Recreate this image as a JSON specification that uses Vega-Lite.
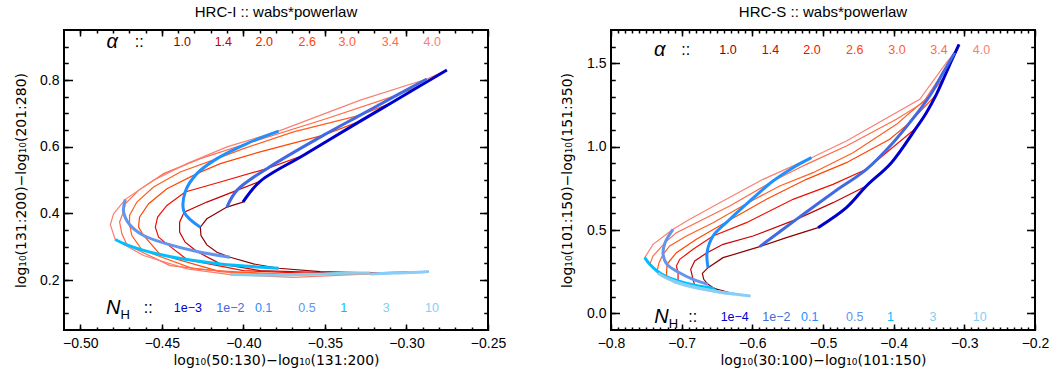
{
"$schema":"https://vega.github.io/schema/vega-lite/v6.json",
"autosize":{"type":"pad"},
"padding":{"left":13,"top":4,"right":5,"bottom":5},
"spacing":123,
"bounds":"flush",
"config":{"font":"Liberation Sans","view":{"stroke":"black","strokeWidth":2},
"axis":{"grid":false,"domain":false,"tickColor":"black","tickWidth":1.5,"labelColor":"black","labelFontSize":14,"labelFont":"Liberation Sans","titleFont":"DejaVu Sans","titleFontSize":14,"titleFontWeight":"normal","titleColor":"black","labelFlush":false,"labelOverlap":false,"minExtent":0},
"title":{"fontSize":15,"fontWeight":"normal","color":"black","offset":9}},
"datasets":{
"L":[
{"s":"α1.0","k":"r","o":[0,1,2,3,4,5,6,7,8,9,10,11,12],"x":[-0.4003,-0.4101,-0.4224,-0.4264,-0.4260,-0.4224,-0.4162,-0.4081,-0.3938,-0.3784,-0.3529,-0.3222,-0.2864],"y":[0.4338,0.4188,0.3837,0.3586,0.3335,0.3054,0.2834,0.2683,0.2483,0.2352,0.2252,0.2212,0.2252]},
{"s":"α1.4","k":"r","o":[0,1,2,3,4,5,6,7,8,9,10,11],"x":[-0.3897,-0.4040,-0.4224,-0.4363,-0.4391,-0.4391,-0.4357,-0.4285,-0.4142,-0.3897,-0.3365,-0.2926],"y":[0.4960,0.4689,0.4338,0.4037,0.3736,0.3436,0.3135,0.2854,0.2483,0.2282,0.2202,0.2232]},
{"s":"α2.0","k":"r","o":[0,1,2,3,4,5,6,7,8,9,10,11,12],"x":[-0.3631,-0.3856,-0.4142,-0.4357,-0.4469,-0.4526,-0.4540,-0.4520,-0.4469,-0.4346,-0.3999,-0.3508,-0.2987],"y":[0.5743,0.5341,0.4940,0.4639,0.4238,0.3887,0.3586,0.3285,0.3084,0.2613,0.2282,0.2182,0.2222]},
{"s":"α2.6","k":"r","o":[0,1,2,3,4,5,6,7,8,9,10,11,12,13],"x":[-0.3283,-0.3508,-0.3897,-0.4142,-0.4285,-0.4469,-0.4581,-0.4637,-0.4643,-0.4612,-0.4510,-0.4142,-0.3651,-0.3048],"y":[0.6766,0.6345,0.5843,0.5492,0.5191,0.4740,0.4288,0.3887,0.3586,0.3335,0.2763,0.2252,0.2162,0.2212]},
{"s":"α3.0","k":"r","o":[0,1,2,3,4,5,6,7,8,9,10,11,12,13,14],"x":[-0.3099,-0.3283,-0.3692,-0.3999,-0.4162,-0.4387,-0.4551,-0.4653,-0.4698,-0.4698,-0.4684,-0.4622,-0.4305,-0.3794,-0.3099],"y":[0.7297,0.6946,0.6445,0.5943,0.5642,0.5241,0.4790,0.4338,0.3937,0.3666,0.3335,0.2904,0.2332,0.2152,0.2202]},
{"s":"α3.4","k":"r","o":[0,1,2,3,4,5,6,7,8,9,10,11,12,13,14],"x":[-0.2916,-0.3059,-0.3488,-0.3978,-0.4264,-0.4489,-0.4643,-0.4724,-0.4735,-0.4759,-0.4745,-0.4714,-0.4449,-0.3938,-0.3161],"y":[0.7829,0.7548,0.6846,0.6094,0.5642,0.5191,0.4689,0.4288,0.4057,0.3736,0.3385,0.3054,0.2432,0.2152,0.2192]},
{"s":"α4.0","k":"r","o":[0,1,2,3,4,5,6,7,8,9,10,11,12,13,14,15],"x":[-0.2752,-0.2875,-0.3283,-0.3784,-0.4101,-0.4346,-0.4551,-0.4724,-0.4796,-0.4816,-0.4786,-0.4612,-0.4346,-0.4081,-0.3692,-0.3222],"y":[0.8300,0.8030,0.7398,0.6465,0.5993,0.5492,0.4990,0.4419,0.3987,0.3656,0.3215,0.2733,0.2332,0.2162,0.2081,0.2182]},
{"s":"NH1e-3","k":"b","o":[0,1,2,3,4,5,6],"x":[-0.4003,-0.3897,-0.3631,-0.3283,-0.3099,-0.2916,-0.2752],"y":[0.4338,0.4960,0.5743,0.6766,0.7297,0.7829,0.8300]},
{"s":"NH1e-2","k":"b","o":[0,1,2,3,4,5,6],"x":[-0.4101,-0.4040,-0.3856,-0.3508,-0.3283,-0.3059,-0.2875],"y":[0.4188,0.4689,0.5341,0.6345,0.6946,0.7548,0.8030]},
{"s":"NH0.1","k":"b","o":[0,1,2,3,4,5,6],"x":[-0.4264,-0.4363,-0.4357,-0.4285,-0.4162,-0.3978,-0.3784],"y":[0.3586,0.4037,0.4639,0.5191,0.5642,0.6094,0.6465]},
{"s":"NH0.5","k":"b","o":[0,1,2,3,4,5,6],"x":[-0.4081,-0.4285,-0.4469,-0.4612,-0.4698,-0.4735,-0.4724],"y":[0.2683,0.2854,0.3084,0.3335,0.3666,0.4057,0.4419]},
{"s":"NH1","k":"b","o":[0,1,2,3,4,5,6],"x":[-0.3784,-0.4142,-0.4346,-0.4510,-0.4622,-0.4714,-0.4786],"y":[0.2352,0.2483,0.2613,0.2763,0.2904,0.3054,0.3215]},
{"s":"NH3","k":"b","o":[0,1,2,3,4,5,6],"x":[-0.3222,-0.3365,-0.3508,-0.3651,-0.3794,-0.3938,-0.4081],"y":[0.2212,0.2202,0.2182,0.2162,0.2152,0.2152,0.2162]},
{"s":"NH10","k":"b","o":[0,1,2,3,4,5,6],"x":[-0.2864,-0.2926,-0.2987,-0.3048,-0.3099,-0.3161,-0.3222],"y":[0.2252,0.2232,0.2222,0.2212,0.2202,0.2192,0.2182]}
],
"R":[
{"s":"α1.0","k":"r","o":[0,1,2,3,4,5,6,7,8,9,10],"x":[-0.5070,-0.5518,-0.5895,-0.6414,-0.6627,-0.6707,-0.6688,-0.6627,-0.6532,-0.6249,-0.6028],"y":[0.514,0.454,0.400,0.334,0.274,0.240,0.204,0.174,0.148,0.116,0.104]},
{"s":"α1.4","k":"r","o":[0,1,2,3,4,5,6,7,8,9,10,11],"x":[-0.4386,-0.4858,-0.5377,-0.5990,-0.6414,-0.6641,-0.6815,-0.6872,-0.6839,-0.6815,-0.6461,-0.6226],"y":[0.764,0.664,0.564,0.464,0.414,0.364,0.314,0.264,0.204,0.168,0.128,0.114]},
{"s":"α2.0","k":"r","o":[0,1,2,3,4,5,6,7,8,9,10,11,12],"x":[-0.3678,-0.4386,-0.4858,-0.5424,-0.6084,-0.6556,-0.6839,-0.7027,-0.7075,-0.7051,-0.7051,-0.6674,-0.6414],"y":[1.114,0.864,0.774,0.684,0.544,0.464,0.384,0.324,0.284,0.248,0.194,0.144,0.124]},
{"s":"α2.6","k":"r","o":[0,1,2,3,4,5,6,7,8,9,10,11,12],"x":[-0.3395,-0.3773,-0.4056,-0.4669,-0.5235,-0.5801,-0.6344,-0.6792,-0.7075,-0.7207,-0.7216,-0.6886,-0.6603],"y":[1.314,1.144,1.044,0.904,0.804,0.684,0.554,0.444,0.364,0.294,0.220,0.164,0.138]},
{"s":"α3.0","k":"r","o":[0,1,2,3,4,5,6,7,8,9,10,11,12,13,14,15],"x":[-0.3277,-0.3490,-0.3726,-0.3961,-0.4575,-0.5141,-0.5612,-0.6061,-0.6556,-0.6933,-0.7169,-0.7263,-0.7320,-0.7348,-0.7075,-0.6792],"y":[1.424,1.304,1.220,1.134,0.964,0.844,0.764,0.664,0.544,0.464,0.404,0.354,0.304,0.254,0.188,0.154]},
{"s":"α3.4","k":"r","o":[0,1,2,3,4,5,6,7,8,9,10,11,12,13,14],"x":[-0.3183,-0.3301,-0.3584,-0.3961,-0.4669,-0.5235,-0.5707,-0.6320,-0.6792,-0.7075,-0.7235,-0.7405,-0.7452,-0.7226,-0.6957],"y":[1.514,1.444,1.264,1.164,1.004,0.894,0.794,0.644,0.544,0.484,0.424,0.344,0.294,0.214,0.170]},
{"s":"α4.0","k":"r","o":[0,1,2,3,4,5,6,7,8,9,10,11,12,13],"x":[-0.3075,-0.3136,-0.3254,-0.3631,-0.4669,-0.5164,-0.5848,-0.6461,-0.6886,-0.7122,-0.7405,-0.7523,-0.7334,-0.7122],"y":[1.614,1.564,1.504,1.284,1.034,0.934,0.804,0.664,0.564,0.504,0.414,0.334,0.240,0.190]},
{"s":"NH1e-4","k":"b","o":[0,1,2,3,4,5,6,7,8,9],"x":[-0.5070,-0.4669,-0.4386,-0.4032,-0.3678,-0.3537,-0.3395,-0.3277,-0.3183,-0.3075],"y":[0.514,0.634,0.764,0.904,1.114,1.204,1.314,1.424,1.514,1.614]},
{"s":"NH1e-2","k":"b","o":[0,1,2,3,4,5,6,7,8],"x":[-0.5895,-0.5377,-0.4858,-0.4386,-0.4009,-0.3773,-0.3490,-0.3301,-0.3136],"y":[0.400,0.564,0.724,0.864,1.024,1.144,1.304,1.444,1.564]},
{"s":"NH0.1","k":"b","o":[0,1,2,3,4,5,6,7],"x":[-0.6627,-0.6641,-0.6556,-0.6344,-0.6061,-0.5707,-0.5424,-0.5164],"y":[0.274,0.364,0.464,0.554,0.664,0.794,0.874,0.934]},
{"s":"NH0.5","k":"b","o":[0,1,2,3,4,5,6],"x":[-0.6627,-0.6839,-0.7051,-0.7207,-0.7263,-0.7235,-0.7122],"y":[0.174,0.204,0.248,0.294,0.354,0.424,0.504]},
{"s":"NH1","k":"b","o":[0,1,2,3,4,5,6],"x":[-0.6532,-0.6815,-0.7051,-0.7216,-0.7348,-0.7452,-0.7523],"y":[0.148,0.168,0.194,0.220,0.254,0.294,0.334]},
{"s":"NH3","k":"b","o":[0,1,2,3,4,5,6],"x":[-0.6249,-0.6461,-0.6674,-0.6886,-0.7075,-0.7226,-0.7334],"y":[0.116,0.128,0.144,0.164,0.188,0.214,0.240]},
{"s":"NH10","k":"b","o":[0,1,2,3,4,5,6],"x":[-0.6028,-0.6226,-0.6414,-0.6603,-0.6792,-0.6957,-0.7122],"y":[0.104,0.114,0.124,0.138,0.154,0.170,0.190]}
],
"Llab":[
{"s":"α1.0","t":"1.0","x":-0.4375,"y":0.9153},{"s":"α1.4","t":"1.4","x":-0.4123,"y":0.9153},{"s":"α2.0","t":"2.0","x":-0.3872,"y":0.9153},{"s":"α2.6","t":"2.6","x":-0.3608,"y":0.9153},{"s":"α3.0","t":"3.0","x":-0.3363,"y":0.9153},{"s":"α3.4","t":"3.4","x":-0.3099,"y":0.9153},{"s":"α4.0","t":"4.0","x":-0.2842,"y":0.9153},
{"s":"NH1e-3","t":"1e−3","x":-0.4340,"y":0.1148},{"s":"NH1e-2","t":"1e−2","x":-0.4080,"y":0.1148},{"s":"NH0.1","t":"0.1","x":-0.3876,"y":0.1148},{"s":"NH0.5","t":"0.5","x":-0.3610,"y":0.1148},{"s":"NH1","t":"1","x":-0.3385,"y":0.1148},{"s":"NH3","t":"3","x":-0.3124,"y":0.1148},{"s":"NH10","t":"10","x":-0.2843,"y":0.1148}
],
"Rlab":[
{"s":"α1.0","t":"1.0","x":-0.6344,"y":1.58},{"s":"α1.4","t":"1.4","x":-0.5744,"y":1.58},{"s":"α2.0","t":"2.0","x":-0.5156,"y":1.58},{"s":"α2.6","t":"2.6","x":-0.4551,"y":1.58},{"s":"α3.0","t":"3.0","x":-0.3953,"y":1.58},{"s":"α3.4","t":"3.4","x":-0.3358,"y":1.58},{"s":"α4.0","t":"4.0","x":-0.2758,"y":1.58},
{"s":"NH1e-4","t":"1e−4","x":-0.6249,"y":-0.02},{"s":"NH1e-2","t":"1e−2","x":-0.5659,"y":-0.02},{"s":"NH0.1","t":"0.1","x":-0.5188,"y":-0.02},{"s":"NH0.5","t":"0.5","x":-0.4551,"y":-0.02},{"s":"NH1","t":"1","x":-0.4046,"y":-0.02},{"s":"NH3","t":"3","x":-0.3443,"y":-0.02},{"s":"NH10","t":"10","x":-0.2783,"y":-0.02}
],
"Lhead":[{"t":"α","x":-0.4804,"y":0.9153},{"t":"N","x":-0.4798,"y":0.1148}],
"Lcol":[{"x":-0.4639,"y":0.9153},{"x":-0.4584,"y":0.1148}],
"Rhead":[{"t":"α","x":-0.7311,"y":1.58},{"t":"N","x":-0.7287,"y":-0.02}],
"Rcol":[{"x":-0.6943,"y":1.58},{"x":-0.6844,"y":-0.02}]
},
"hconcat":[
{
"width":424,"height":300,
"title":{"text":"HRC-I :: wabs*powerlaw"},
"resolve":{"axis":{"x":"independent","y":"independent"}},
"layer":[
{"data":{"name":"L"},"transform":[{"filter":"datum.k==='r'"},{"flatten":["o","x","y"]}],
"mark":{"type":"line","strokeWidth":1.2},
"encoding":{
"x":{"field":"x","type":"quantitative","scale":{"domain":[-0.51,-0.25],"nice":false,"zero":false},
"axis":{"orient":"bottom","values":[-0.5,-0.45,-0.4,-0.35,-0.3,-0.25],"format":".2f","tickSize":-6,"labelPadding":12,"title":"log₁₀(50:130)−log₁₀(131:200)","titlePadding":3}},
"y":{"field":"y","type":"quantitative","scale":{"domain":[0.05,0.95],"nice":false,"zero":false},
"axis":{"orient":"left","values":[0.2,0.4,0.6,0.8],"format":".1f","tickSize":-8.5,"labelPadding":13.5,"title":"log₁₀(131:200)−log₁₀(201:280)","titleX":-43,"titleY":150,"titleBaseline":"middle","titleAlign":"center"}},
"color":{"field":"s","type":"nominal","scale":{"domain":["α1.0","α1.4","α2.0","α2.6","α3.0","α3.4","α4.0","NH1e-4","NH1e-3","NH1e-2","NH0.1","NH0.5","NH1","NH3","NH10"],"range":["#8B0000","#C80000","#F01000","#FF4500","#FF5F1F","#FF6A4D","#FA8072","#0000CD","#0000CD","#4169E1","#1E90FF","#6495ED","#00BFFF","#87CEEB","#87CEFA"]},"legend":null},
"order":{"field":"o","type":"quantitative"}}},
{"data":{"name":"L"},"transform":[{"filter":"datum.k==='b'"},{"flatten":["o","x","y"]}],
"mark":{"type":"line","strokeWidth":3,"interpolate":"catmull-rom"},
"encoding":{
"x":{"field":"x","type":"quantitative","axis":{"orient":"top","values":[-0.5,-0.45,-0.4,-0.35,-0.3,-0.25],"labels":false,"tickSize":-6,"title":null}},
"y":{"field":"y","type":"quantitative","axis":{"orient":"right","values":[0.2,0.4,0.6,0.8],"labels":false,"tickSize":-8.5,"title":null}},
"color":{"field":"s","type":"nominal","legend":null},
"order":{"field":"o","type":"quantitative"}}},
{"data":{"name":"Llab"},"mark":{"type":"text","fontSize":12.5},
"encoding":{
"x":{"field":"x","type":"quantitative","axis":{"orient":"bottom","values":[-0.5,-0.49,-0.48,-0.47,-0.46,-0.45,-0.44,-0.43,-0.42,-0.41,-0.4,-0.39,-0.38,-0.37,-0.36,-0.35,-0.34,-0.33,-0.32,-0.31,-0.3,-0.29,-0.28,-0.27,-0.26],"labels":false,"tickSize":-3,"title":null}},
"y":{"field":"y","type":"quantitative","axis":{"orient":"left","values":[0.1,0.15,0.2,0.25,0.3,0.35,0.4,0.45,0.5,0.55,0.6,0.65,0.7,0.75,0.8,0.85,0.9],"labels":false,"tickSize":-4.25,"title":null}},
"text":{"field":"t"},
"color":{"field":"s","type":"nominal","legend":null}}},
{"data":{"name":"Lhead"},"mark":{"type":"text","fontSize":20,"fontStyle":"italic","color":"black"},
"encoding":{
"x":{"field":"x","type":"quantitative","axis":{"orient":"top","values":[-0.5,-0.49,-0.48,-0.47,-0.46,-0.45,-0.44,-0.43,-0.42,-0.41,-0.4,-0.39,-0.38,-0.37,-0.36,-0.35,-0.34,-0.33,-0.32,-0.31,-0.3,-0.29,-0.28,-0.27,-0.26],"labels":false,"tickSize":-3,"title":null}},
"y":{"field":"y","type":"quantitative","axis":{"orient":"right","values":[0.1,0.15,0.2,0.25,0.3,0.35,0.4,0.45,0.5,0.55,0.6,0.65,0.7,0.75,0.8,0.85,0.9],"labels":false,"tickSize":-4.25,"title":null}},
"text":{"field":"t"}}},
{"data":{"name":"Lcol"},"mark":{"type":"text","fontSize":16,"color":"black","text":"::"},
"encoding":{"x":{"field":"x","type":"quantitative","axis":null},"y":{"field":"y","type":"quantitative","axis":null}}},
{"data":{"name":"Lhead"},"transform":[{"filter":"datum.t==='N'"}],"mark":{"type":"text","fontSize":13,"color":"black","text":"H","dx":12,"dy":7},
"encoding":{"x":{"field":"x","type":"quantitative","axis":null},"y":{"field":"y","type":"quantitative","axis":null}}}
]
},
{
"width":424,"height":300,
"title":{"text":"HRC-S :: wabs*powerlaw"},
"resolve":{"axis":{"x":"independent","y":"independent"}},
"layer":[
{"data":{"name":"R"},"transform":[{"filter":"datum.k==='r'"},{"flatten":["o","x","y"]}],
"mark":{"type":"line","strokeWidth":1.2},
"encoding":{
"x":{"field":"x","type":"quantitative","scale":{"domain":[-0.8,-0.2],"nice":false,"zero":false},
"axis":{"orient":"bottom","values":[-0.8,-0.7,-0.6,-0.5,-0.4,-0.3,-0.2],"format":".1f","tickSize":-6,"labelPadding":12,"title":"log₁₀(30:100)−log₁₀(101:150)","titlePadding":3}},
"y":{"field":"y","type":"quantitative","scale":{"domain":[-0.1,1.7],"nice":false,"zero":false},
"axis":{"orient":"left","values":[0,0.5,1,1.5],"format":".1f","tickSize":-8.5,"labelPadding":13.5,"title":"log₁₀(101:150)−log₁₀(151:350)","titleX":-44,"titleY":150,"titleBaseline":"middle","titleAlign":"center"}},
"color":{"field":"s","type":"nominal","scale":{"domain":["α1.0","α1.4","α2.0","α2.6","α3.0","α3.4","α4.0","NH1e-4","NH1e-3","NH1e-2","NH0.1","NH0.5","NH1","NH3","NH10"],"range":["#8B0000","#C80000","#F01000","#FF4500","#FF5F1F","#FF6A4D","#FA8072","#0000CD","#0000CD","#4169E1","#1E90FF","#6495ED","#00BFFF","#87CEEB","#87CEFA"]},"legend":null},
"order":{"field":"o","type":"quantitative"}}},
{"data":{"name":"R"},"transform":[{"filter":"datum.k==='b'"},{"flatten":["o","x","y"]}],
"mark":{"type":"line","strokeWidth":3,"interpolate":"catmull-rom"},
"encoding":{
"x":{"field":"x","type":"quantitative","axis":{"orient":"top","values":[-0.8,-0.7,-0.6,-0.5,-0.4,-0.3,-0.2],"labels":false,"tickSize":-6,"title":null}},
"y":{"field":"y","type":"quantitative","axis":{"orient":"right","values":[0,0.5,1,1.5],"labels":false,"tickSize":-8.5,"title":null}},
"color":{"field":"s","type":"nominal","legend":null},
"order":{"field":"o","type":"quantitative"}}},
{"data":{"name":"Rlab"},"mark":{"type":"text","fontSize":12.5},
"encoding":{
"x":{"field":"x","type":"quantitative","axis":{"orient":"bottom","values":[-0.79,-0.78,-0.77,-0.76,-0.75,-0.74,-0.73,-0.72,-0.71,-0.7,-0.69,-0.68,-0.67,-0.66,-0.65,-0.64,-0.63,-0.62,-0.61,-0.6,-0.59,-0.58,-0.57,-0.56,-0.55,-0.54,-0.53,-0.52,-0.51,-0.5,-0.49,-0.48,-0.47,-0.46,-0.45,-0.44,-0.43,-0.42,-0.41,-0.4,-0.39,-0.38,-0.37,-0.36,-0.35,-0.34,-0.33,-0.32,-0.31,-0.3,-0.29,-0.28,-0.27,-0.26,-0.25,-0.24,-0.23,-0.22,-0.21],"labels":false,"tickSize":-3,"title":null}},
"y":{"field":"y","type":"quantitative","axis":{"orient":"left","values":[0,0.1,0.2,0.3,0.4,0.5,0.6,0.7,0.8,0.9,1,1.1,1.2,1.3,1.4,1.5,1.6],"labels":false,"tickSize":-4.25,"title":null}},
"text":{"field":"t"},
"color":{"field":"s","type":"nominal","legend":null}}},
{"data":{"name":"Rhead"},"mark":{"type":"text","fontSize":20,"fontStyle":"italic","color":"black"},
"encoding":{
"x":{"field":"x","type":"quantitative","axis":{"orient":"top","values":[-0.79,-0.78,-0.77,-0.76,-0.75,-0.74,-0.73,-0.72,-0.71,-0.7,-0.69,-0.68,-0.67,-0.66,-0.65,-0.64,-0.63,-0.62,-0.61,-0.6,-0.59,-0.58,-0.57,-0.56,-0.55,-0.54,-0.53,-0.52,-0.51,-0.5,-0.49,-0.48,-0.47,-0.46,-0.45,-0.44,-0.43,-0.42,-0.41,-0.4,-0.39,-0.38,-0.37,-0.36,-0.35,-0.34,-0.33,-0.32,-0.31,-0.3,-0.29,-0.28,-0.27,-0.26,-0.25,-0.24,-0.23,-0.22,-0.21],"labels":false,"tickSize":-3,"title":null}},
"y":{"field":"y","type":"quantitative","axis":{"orient":"right","values":[0,0.1,0.2,0.3,0.4,0.5,0.6,0.7,0.8,0.9,1,1.1,1.2,1.3,1.4,1.5,1.6],"labels":false,"tickSize":-4.25,"title":null}},
"text":{"field":"t"}}},
{"data":{"name":"Rcol"},"mark":{"type":"text","fontSize":16,"color":"black","text":"::"},
"encoding":{"x":{"field":"x","type":"quantitative","axis":null},"y":{"field":"y","type":"quantitative","axis":null}}},
{"data":{"name":"Rhead"},"transform":[{"filter":"datum.t==='N'"}],"mark":{"type":"text","fontSize":13,"color":"black","text":"H","dx":12,"dy":7},
"encoding":{"x":{"field":"x","type":"quantitative","axis":null},"y":{"field":"y","type":"quantitative","axis":null}}}
]
}
]
}
